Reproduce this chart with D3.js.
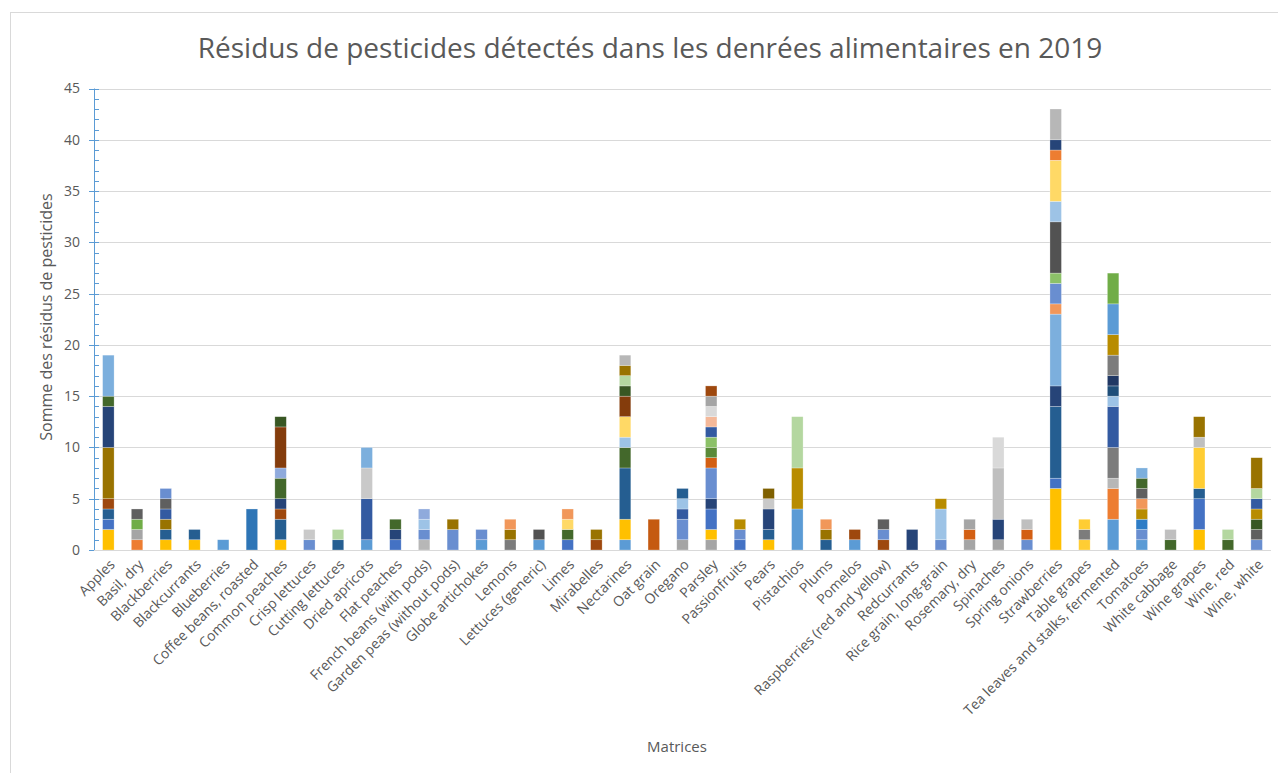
<!DOCTYPE html>
<meta charset="utf-8">
<html lang="fr">
<style>
body { margin: 0; background: #fff; }
text { font-family: "Open Sans", sans-serif; fill: #595959; }
.grid line { stroke: #d9d9d9; stroke-width: 1px; }
</style>
<body>
<script src="https://d3js.org/d3.v7.min.js"></script>
<script>

// categories (matrices)
var categories = ["Apples", "Basil, dry", "Blackberries", "Blackcurrants", "Blueberries",
  "Coffee beans, roasted", "Common peaches", "Crisp lettuces", "Cutting lettuces", "Dried apricots",
  "Flat peaches", "French beans (with pods)", "Garden peas (without pods)", "Globe artichokes", "Lemons",
  "Lettuces (generic)", "Limes", "Mirabelles", "Nectarines", "Oat grain", "Oregano", "Parsley",
  "Passionfruits", "Pears", "Pistachios", "Plums", "Pomelos", "Raspberries (red and yellow)",
  "Redcurrants", "Rice grain, long-grain", "Rosemary, dry", "Spinaches", "Spring onions",
  "Strawberries", "Table grapes", "Tea leaves and stalks, fermented", "Tomatoes", "White cabbage",
  "Wine grapes", "Wine, red", "Wine, white"];

// stacked residue counts per matrix, bottom to top
var segmentCounts = [
  [2, 1, 1, 1, 5, 4, 1, 4],
  [1, 1, 1, 1],
  [1, 1, 1, 1, 1, 1],
  [1, 1],
  [1],
  [4],
  [1, 2, 1, 1, 2, 1, 4, 1],
  [1, 1],
  [1, 1],
  [1, 4, 3, 2],
  [1, 1, 1],
  [1, 1, 1, 1],
  [2, 1],
  [1, 1],
  [1, 1, 1],
  [1, 1],
  [1, 1, 1, 1],
  [1, 1],
  [1, 2, 5, 2, 1, 2, 2, 1, 1, 1, 1],
  [3],
  [1, 2, 1, 1, 1],
  [1, 1, 2, 1, 3, 1, 1, 1, 1, 1, 1, 1, 1],
  [1, 1, 1],
  [1, 1, 2, 1, 1],
  [4, 4, 5],
  [1, 1, 1],
  [1, 1],
  [1, 1, 1],
  [2],
  [1, 3, 1],
  [1, 1, 1],
  [1, 2, 5, 3],
  [1, 1, 1],
  [6, 1, 7, 2, 7, 1, 2, 1, 5, 2, 4, 1, 1, 3],
  [1, 1, 1],
  [3, 3, 1, 3, 4, 1, 1, 1, 2, 2, 3, 3],
  [1, 1, 1, 1, 1, 1, 1, 1],
  [1, 1],
  [2, 3, 1, 4, 1, 2],
  [1, 1],
  [1, 1, 1, 1, 1, 1, 3]
];

// series (pesticide) key of each segment, same order
var segmentSeries = [
  ["gold", "blue", "teal", "brown", "olive", "navy", "dgreen", "lblue2"],
  ["orange", "gray", "green", "dgray"],
  ["gold", "teal", "olive", "blue3", "dgray", "blue2"],
  ["gold", "teal"],
  ["lblue"],
  ["steel"],
  ["gold", "teal", "brown", "navy", "dgreen", "blue4", "brown2", "dgreen2"],
  ["blue2", "gray4"],
  ["teal", "green4"],
  ["lblue", "blue3", "gray4", "lblue2"],
  ["blue", "navy", "dgreen"],
  ["gray2", "blue2", "lblue4", "blue4"],
  ["blue2", "olive"],
  ["lblue", "blue2"],
  ["gray3", "olive", "orange2"],
  ["lblue", "dgray2"],
  ["blue", "dgreen", "gold4", "orange2"],
  ["brown", "olive"],
  ["lblue", "gold", "teal", "dgreen", "lblue4", "gold4", "brown2", "dgreen2", "green4", "olive", "gray2"],
  ["rust"],
  ["gray", "blue2", "blue3", "lblue4", "teal"],
  ["gray", "gold", "blue", "navy", "blue2", "orange3", "green3", "green2", "blue3", "orange4", "gray5", "gray", "brown"],
  ["blue", "blue2", "gold3"],
  ["gold", "teal", "navy", "gray4", "olive2"],
  ["lblue", "gold3", "green4"],
  ["teal", "olive", "orange2"],
  ["lblue", "brown"],
  ["brown", "blue2", "dgray"],
  ["navy"],
  ["blue2", "lblue4", "gold3"],
  ["gray", "orange3", "gray"],
  ["gray", "navy", "gray6", "gray5"],
  ["blue2", "orange3", "gray6"],
  ["gold", "blue", "teal", "navy", "lblue2", "orange2", "blue2", "green2", "dgray2", "lblue4", "gold4", "orange", "navy", "gray2"],
  ["gold2", "gray3", "gold2"],
  ["lblue", "orange", "gray2", "gray3", "blue3", "lblue4", "teal2", "navy2", "gray3", "gold3", "lblue", "green"],
  ["lblue", "blue2", "lblue3", "gold3", "orange2", "dgray", "dgreen", "lblue2"],
  ["dgreen", "gray6"],
  ["gold", "blue", "teal", "gold2", "gray6", "olive"],
  ["dgreen", "green4"],
  ["blue2", "dgray", "dgreen2", "gold3", "blue3", "green4", "olive"]
];

var seriesColors = {
  gold: "#FFC000", blue: "#4472C4", lblue: "#5B9BD5", orange: "#ED7D31", gray: "#A5A5A5", green: "#70AD47",
  navy: "#264478", brown: "#9E480E", dgray: "#5F5F5F", olive: "#997300", teal: "#255E91", dgreen: "#43682B",
  blue2: "#698ED0", orange2: "#F1975A", gray2: "#B7B7B7", gold2: "#FFCD33", lblue2: "#7CAFDD", green2: "#8CC168",
  blue3: "#335AA1", orange3: "#D35F13", gray3: "#7C7C7C", gold3: "#B88C00", lblue3: "#2E7DC6", green3: "#5A8A39",
  blue4: "#8FAADC", orange4: "#F4B899", gray4: "#C9C9C9", gold4: "#FFD966", lblue4: "#9DC3E6", green4: "#B4D7A0",
  navy2: "#203864", brown2: "#843C0C", dgray2: "#525252", olive2: "#7F6000", teal2: "#1F4E79", dgreen2: "#385723",
  gray5: "#D9D9D9", gray6: "#BFBFBF", steel: "#2E75B6", rust: "#C55A11"
};

var yTicks = [0, 5, 10, 15, 20, 25, 30, 35, 40, 45];

var margin = {top: 88.5, left: 94, right: 7, bottom: 223},
    W = 1278, H = 773;

var svg = d3.select("body").append("svg")
    .attr("width", W)
    .attr("height", H);

// chart frame
svg.append("rect")
    .attr("x", 10.5).attr("y", 12.5)
    .attr("width", 1300).attr("height", 900)
    .attr("fill", "none").attr("stroke", "#d9d9d9");

var x = d3.scaleBand()
    .domain(categories)
    .range([margin.left, W - margin.right])
    .paddingInner(0.6)
    .paddingOuter(0.3);

var y = d3.scaleLinear()
    .domain([0, 45])
    .range([H - margin.bottom, margin.top]);

// gridlines
svg.append("g").attr("class", "grid")
  .selectAll("line")
  .data(yTicks)
  .enter().append("line")
    .attr("x1", margin.left).attr("x2", W - margin.right)
    .attr("y1", function(d) { return Math.round(y(d)) + 0.5; })
    .attr("y2", function(d) { return Math.round(y(d)) + 0.5; });

// flatten stacks into segments
var segments = [];
categories.forEach(function(c, i) {
  var tops = d3.cumsum(segmentCounts[i]);
  segmentCounts[i].forEach(function(v, j) {
    segments.push({cat: c, y0: tops[j] - v, y1: tops[j], key: segmentSeries[i][j]});
  });
});

svg.append("g")
  .selectAll("rect")
  .data(segments)
  .enter().append("rect")
    .attr("x", function(d) { return x(d.cat); })
    .attr("width", x.bandwidth())
    .attr("y", function(d) { return y(d.y1); })
    .attr("height", function(d) { return y(d.y0) - y(d.y1); })
    .attr("fill", function(d) { return seriesColors[d.key]; })
    .attr("stroke", "#fff")
    .attr("stroke-opacity", 0.45)
    .attr("stroke-width", 0.6);

// y axis (blue line, major + minor ticks)
var yAxis = svg.append("g")
    .attr("transform", "translate(" + margin.left + ",0)")
    .call(d3.axisLeft(y).tickValues(yTicks).tickSize(0).tickPadding(14));
yAxis.select(".domain").remove();
yAxis.selectAll("text").style("font-size", "14px").attr("fill", "#595959");

var axisG = svg.append("g").attr("stroke", "#5B9BD5");
axisG.append("line")
    .attr("x1", margin.left + 0.5).attr("x2", margin.left + 0.5)
    .attr("y1", y(45)).attr("y2", y(0));
axisG.selectAll(".minor")
  .data(d3.range(0, 46))
  .enter().append("line")
    .attr("x1", function(d) { return d % 5 === 0 ? margin.left - 5 : margin.left; })
    .attr("x2", margin.left + 5)
    .attr("y1", function(d) { return Math.round(y(d)) + 0.5; })
    .attr("y2", function(d) { return Math.round(y(d)) + 0.5; });

// x axis baseline
svg.append("line")
    .attr("x1", margin.left).attr("x2", W - margin.right)
    .attr("y1", Math.round(y(0)) + 0.5).attr("y2", Math.round(y(0)) + 0.5)
    .attr("stroke", "#d9d9d9");

// x labels
svg.append("g")
  .selectAll("text")
  .data(categories)
  .enter().append("text")
    .attr("transform", function(d) {
      return "translate(" + (x(d) + x.bandwidth() / 2 + 4) + "," + (y(0) + 12) + ") rotate(-45)";
    })
    .attr("text-anchor", "end")
    .attr("dy", "0.35em")
    .style("font-size", "14px")
    .text(function(d) { return d; });

// titles
svg.append("text")
    .attr("x", 650).attr("y", 58)
    .attr("text-anchor", "middle")
    .style("font-size", "28px")
    .text("Résidus de pesticides détectés dans les denrées alimentaires en 2019");

svg.append("text")
    .attr("transform", "translate(52,317) rotate(-90)")
    .attr("text-anchor", "middle")
    .style("font-size", "16px")
    .text("Somme des résidus de pesticides");

svg.append("text")
    .attr("x", 677).attr("y", 752)
    .attr("text-anchor", "middle")
    .style("font-size", "15px")
    .text("Matrices");

</script>
</body>
</html>
